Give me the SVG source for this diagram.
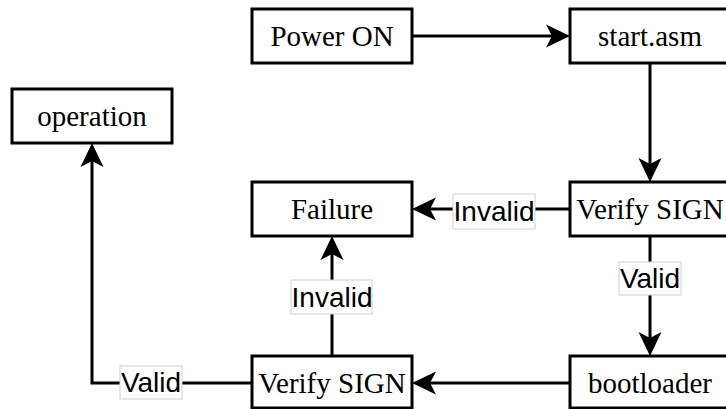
<svg xmlns="http://www.w3.org/2000/svg" width="726" height="409" viewBox="0 0 726 409">
<style>
.box{fill:#fff;stroke:#000;stroke-width:3}
.nt{font-family:"Liberation Serif",serif;font-size:29px;text-anchor:middle;fill:#000}
.edge{fill:none;stroke:#000;stroke-width:3}
.lb{fill:#fff;stroke:#d0d0d0;stroke-width:1}
.lt{font-family:"Liberation Sans",sans-serif;font-size:28px;text-anchor:middle;fill:#000}
</style>
<defs>
<marker id="arr" markerUnits="userSpaceOnUse" refX="0" refY="0" markerWidth="40" markerHeight="40" orient="auto" overflow="visible">
<path d="M18,0 L-6,-11.5 L0,0 L-6,11.5 Z" fill="#000"/>
</marker>
</defs>
<rect width="726" height="409" fill="#fff"/>
<g id="connectors">
<path class="edge" d="M412,36 H552" marker-end="url(#arr)"/>
<path class="edge" d="M650,63 V164" marker-end="url(#arr)"/>
<path class="edge" d="M570,209 H430" marker-end="url(#arr)"/>
<path class="edge" d="M650,236 V338" marker-end="url(#arr)"/>
<path class="edge" d="M570,383 H430" marker-end="url(#arr)"/>
<path class="edge" d="M332,356 V254" marker-end="url(#arr)"/>
<path class="edge" d="M252,383 H92 V161" marker-end="url(#arr)"/>
<g id="label-invalid-1"><rect class="lb" x="453" y="194" width="82" height="35"/><text class="lt" x="494" y="221">Invalid</text></g>
<g id="label-valid-1"><rect class="lb" x="619" y="262" width="62" height="33"/><text class="lt" x="650" y="288">Valid</text></g>
<g id="label-invalid-2"><rect class="lb" x="291" y="280" width="81" height="34"/><text class="lt" x="332" y="307">Invalid</text></g>
<g id="label-valid-2"><rect class="lb" x="120" y="366" width="62" height="33"/><text class="lt" x="151" y="392">Valid</text></g>
</g>
<g id="power-on"><rect class="box" x="252" y="9" width="160" height="54"/><text class="nt" x="332" y="46">Power ON</text></g>
<g id="start-asm"><rect class="box" x="570" y="9" width="160" height="54"/><text class="nt" x="650" y="46">start.asm</text></g>
<g id="operation"><rect class="box" x="12" y="89" width="160" height="54"/><text class="nt" x="92" y="126">operation</text></g>
<g id="failure"><rect class="box" x="252" y="182" width="160" height="54"/><text class="nt" x="332" y="219">Failure</text></g>
<g id="verify-sign-1"><rect class="box" x="570" y="182" width="160" height="54"/><text class="nt" x="650" y="219">Verify SIGN</text></g>
<g id="verify-sign-2"><rect class="box" x="252" y="356" width="160" height="52"/><text class="nt" x="332" y="393">Verify SIGN</text></g>
<g id="bootloader"><rect class="box" x="570" y="356" width="160" height="52"/><text class="nt" x="650" y="393">bootloader</text></g>
</svg>
